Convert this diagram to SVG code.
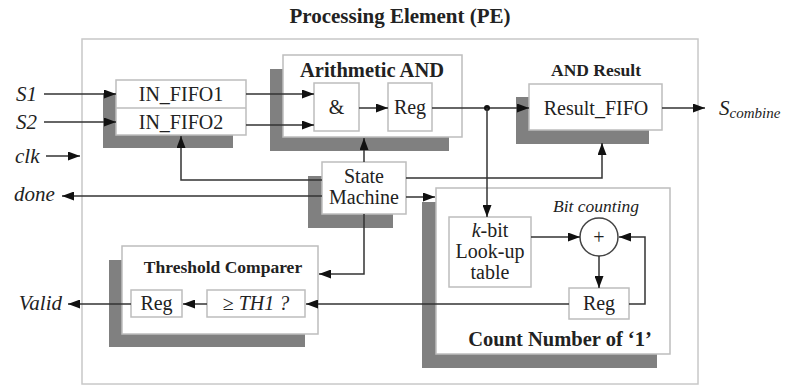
<svg xmlns="http://www.w3.org/2000/svg" width="788" height="386" viewBox="0 0 788 386">
<style>
.box{fill:#fff;stroke:#bdbdbd;stroke-width:1.5}
.sh{fill:#808080}
.t{font-family:"Liberation Serif",serif;fill:#222}
.b{font-weight:bold}
.i{font-style:italic}
.c{stroke:#333;stroke-width:1.5;fill:none}
.ca{stroke:#333;stroke-width:1.5;fill:none;marker-end:url(#ah)}
</style>
<defs>
<marker id="ah" markerUnits="userSpaceOnUse" markerWidth="13" markerHeight="9" refX="12" refY="4.5" orient="auto">
<path d="M0,0 L12,4.5 L0,9 z" fill="#111"/>
</marker>
</defs>
<rect width="788" height="386" fill="#fff"/>
<text class="t b" x="400" y="23" font-size="21" text-anchor="middle">Processing Element (PE)</text>
<g id="pe"><rect x="82" y="39" width="616" height="345" fill="none" stroke="#c8c8c8" stroke-width="1.5"/></g>

<g id="labels">
<text class="t i" x="16" y="101" font-size="21">S1</text>
<text class="t i" x="16" y="129" font-size="21">S2</text>
<text class="t i" x="15" y="163" font-size="21">clk</text>
<text class="t i" x="14" y="201" font-size="21">done</text>
<text class="t i" x="62" y="310" font-size="21" text-anchor="end">Valid</text>
<text class="t i" x="719" y="115" font-size="21">S<tspan font-size="15" dy="3">combine</tspan></text>
</g>

<g id="in_fifo">
<rect class="sh" x="103" y="93" width="130" height="55"/>
<rect class="box" x="116" y="80" width="130" height="55"/>
<line x1="116" y1="108" x2="246" y2="108" stroke="#bdbdbd" stroke-width="1.5"/>
<text class="t" x="181" y="101" font-size="20" text-anchor="middle">IN_FIFO1</text>
<text class="t" x="181" y="129" font-size="20" text-anchor="middle">IN_FIFO2</text>
</g>

<g id="arith_and">
<rect class="sh" x="270" y="69" width="179" height="82"/>
<rect class="box" x="283" y="55" width="179" height="82"/>
<text class="t b" x="372" y="77" font-size="20.5" text-anchor="middle">Arithmetic AND</text>
<rect class="box" x="314" y="83" width="45" height="48"/>
<text class="t" x="336.5" y="114" font-size="20" text-anchor="middle">&amp;</text>
<rect class="box" x="388" y="83" width="44" height="48"/>
<text class="t" x="410" y="114" font-size="20" text-anchor="middle">Reg</text>
</g>

<g id="and_result">
<text class="t b" x="596" y="76" font-size="17.5" text-anchor="middle">AND Result</text>
<rect class="sh" x="516" y="97" width="133" height="47"/>
<rect class="box" x="529" y="84" width="133" height="46"/>
<text class="t" x="596" y="115" font-size="20" text-anchor="middle">Result_FIFO</text>
</g>

<g id="state_machine">
<rect class="sh" x="308" y="176" width="85" height="52"/>
<rect class="box" x="322" y="162" width="84" height="52"/>
<text class="t" x="364" y="183" font-size="20" text-anchor="middle">State</text>
<text class="t" x="364" y="204" font-size="20" text-anchor="middle">Machine</text>
</g>

<g id="count">
<rect class="sh" x="422" y="202" width="235" height="166"/>
<rect class="box" x="436" y="188" width="234" height="166"/>
<text class="t i" x="596" y="212" font-size="17.5" text-anchor="middle">Bit counting</text>
<text class="t b" x="560" y="346" font-size="20.5" text-anchor="middle">Count Number of ‘1’</text>
</g>

<g id="lut">
<rect class="box" x="449" y="217" width="82" height="70"/>
<text class="t" x="490" y="237" font-size="20" text-anchor="middle"><tspan font-style="italic">k</tspan>-bit</text>
<text class="t" x="490" y="258" font-size="20" text-anchor="middle">Look-up</text>
<text class="t" x="490" y="279" font-size="20" text-anchor="middle">table</text>
</g>

<g id="adder">
<circle cx="599" cy="237" r="19" fill="#fff" stroke="#444" stroke-width="1.5"/>
<text class="t" x="599" y="244" font-size="20" text-anchor="middle">+</text>
</g>

<g id="count_reg">
<rect class="box" x="569" y="288" width="60" height="31"/>
<text class="t" x="599" y="310" font-size="20" text-anchor="middle">Reg</text>
</g>

<g id="threshold">
<rect class="sh" x="109" y="260" width="196" height="87"/>
<rect class="box" x="122" y="246" width="196" height="88"/>
<text class="t b" x="223" y="273" font-size="17.5" text-anchor="middle">Threshold Comparer</text>
<rect class="box" x="131" y="290" width="51" height="27"/>
<text class="t" x="156.5" y="310" font-size="20" text-anchor="middle">Reg</text>
<rect class="box" x="207" y="290" width="98" height="27"/>
<text class="t" x="256" y="310" font-size="20" text-anchor="middle">≥ <tspan font-style="italic">TH1 ?</tspan></text>
</g>

<g id="connectors">
<path class="ca" d="M44,94 H116"/>
<path class="ca" d="M44,122 H116"/>
<path class="ca" d="M46,156 H80"/>
<path class="ca" d="M246,94 H314"/>
<path class="ca" d="M246,125 H314"/>
<path class="ca" d="M359,108 H388"/>
<path class="ca" d="M432,108 H529"/>
<circle cx="487" cy="108" r="3" fill="#111"/>
<path class="ca" d="M662,108 H705"/>
<path class="ca" d="M322,180 H181 V136"/>
<path class="ca" d="M364,162 V138"/>
<path class="ca" d="M406,178 H602 V143"/>
<path class="ca" d="M322,196 H62"/>
<path class="ca" d="M406,197 H435"/>
<path class="ca" d="M487,108 V217"/>
<path class="ca" d="M364,214 V274 H319"/>
<path class="ca" d="M531,237 H580"/>
<path class="ca" d="M599,256 V288"/>
<path class="ca" d="M629,304 H645 V237 H619"/>
<path class="ca" d="M569,304 H306"/>
<path class="ca" d="M207,304 H183"/>
<path class="ca" d="M131,304 H68"/>
</g>
</svg>
